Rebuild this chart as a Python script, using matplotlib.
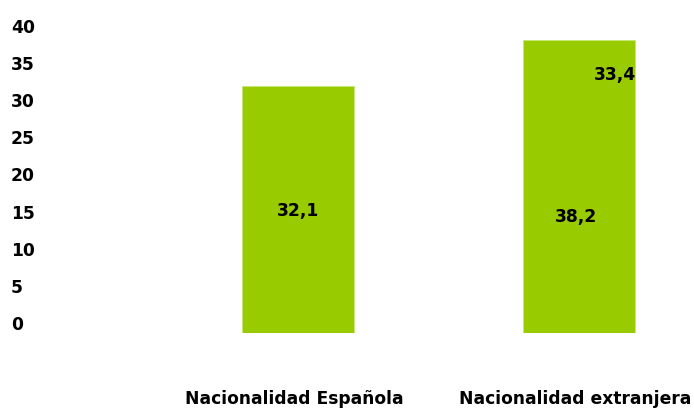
import matplotlib.pyplot as plt
from matplotlib import rcParams
from matplotlib.transforms import ScaledTranslation

# the source text looks like a horizontally stretched Arial Bold; DejaVu Bold is close
rcParams["font.family"] = ["DejaVu Sans"]
rcParams["font.weight"] = "bold"
FS = 12.3

categories = ["Nacionalidad Española", "Nacionalidad extranjera"]
values = [32.1, 38.2]
value_labels = ["32,1", "38,2"]
extra_value = 33.4  # second figure printed on the foreign bar
extra_label = "33,4"
yticks = [0, 5, 10, 15, 20, 25, 30, 35, 40]

GREEN = "#99cc00"
W, H = 694, 410

fig = plt.figure(figsize=(W / 100, H / 100), dpi=100)

# bar axes: value 0 sits at y=334px, 7.68 px per unit
bottom_px, top_px = 334, 334 - 40 * 7.68
ax = fig.add_axes([0, 1 - bottom_px / H, 1, (bottom_px - top_px) / H])
ax.set_ylim(0, 40)
ax.set_xlim(-298 / 281, (W - 298) / 281)
x = list(range(len(categories)))
ax.bar(x, values, width=0.4, color=GREEN, edgecolor="#c8e67a", linewidth=0.6)
ax.set_xticks(x, categories, fontsize=FS, fontweight="bold")
ax.tick_params(axis="x", length=0, pad=40)
# category labels sit a little left of the bar centres
shift = ScaledTranslation(-4 / 100, 0, fig.dpi_scale_trans)
for t in ax.get_xticklabels():
    t.set_transform(t.get_transform() + shift)
ax.set_yticks([])
for s in ax.spines.values():
    s.set_visible(False)

# numbers inside the bars
ax.text(x[0], values[0] / 2, value_labels[0], ha="center", va="center",
        fontsize=FS, fontweight="bold")
ax.text(x[1] - 0.01, values[1] * 0.4, value_labels[1], ha="center", va="center",
        fontsize=FS, fontweight="bold")
ax.text(x[1] + 0.205, extra_value + 0.3, extra_label, ha="right", va="center",
        fontsize=FS, fontweight="bold")

# y tick labels are drawn on their own (slightly offset) scale
lab = fig.add_axes([11 / W, 1 - 323 / H, 0.01, (323 - 26) / H])
lab.set_ylim(0, 40)
lab.set_yticks(yticks, [str(t) for t in yticks], fontsize=FS, fontweight="bold")
for t in lab.get_yticklabels():
    t.set_horizontalalignment("left")
lab.tick_params(axis="y", length=0, pad=0)
lab.set_xticks([])
lab.patch.set_visible(False)
for s in lab.spines.values():
    s.set_visible(False)

fig.savefig("out.png", dpi=100)
